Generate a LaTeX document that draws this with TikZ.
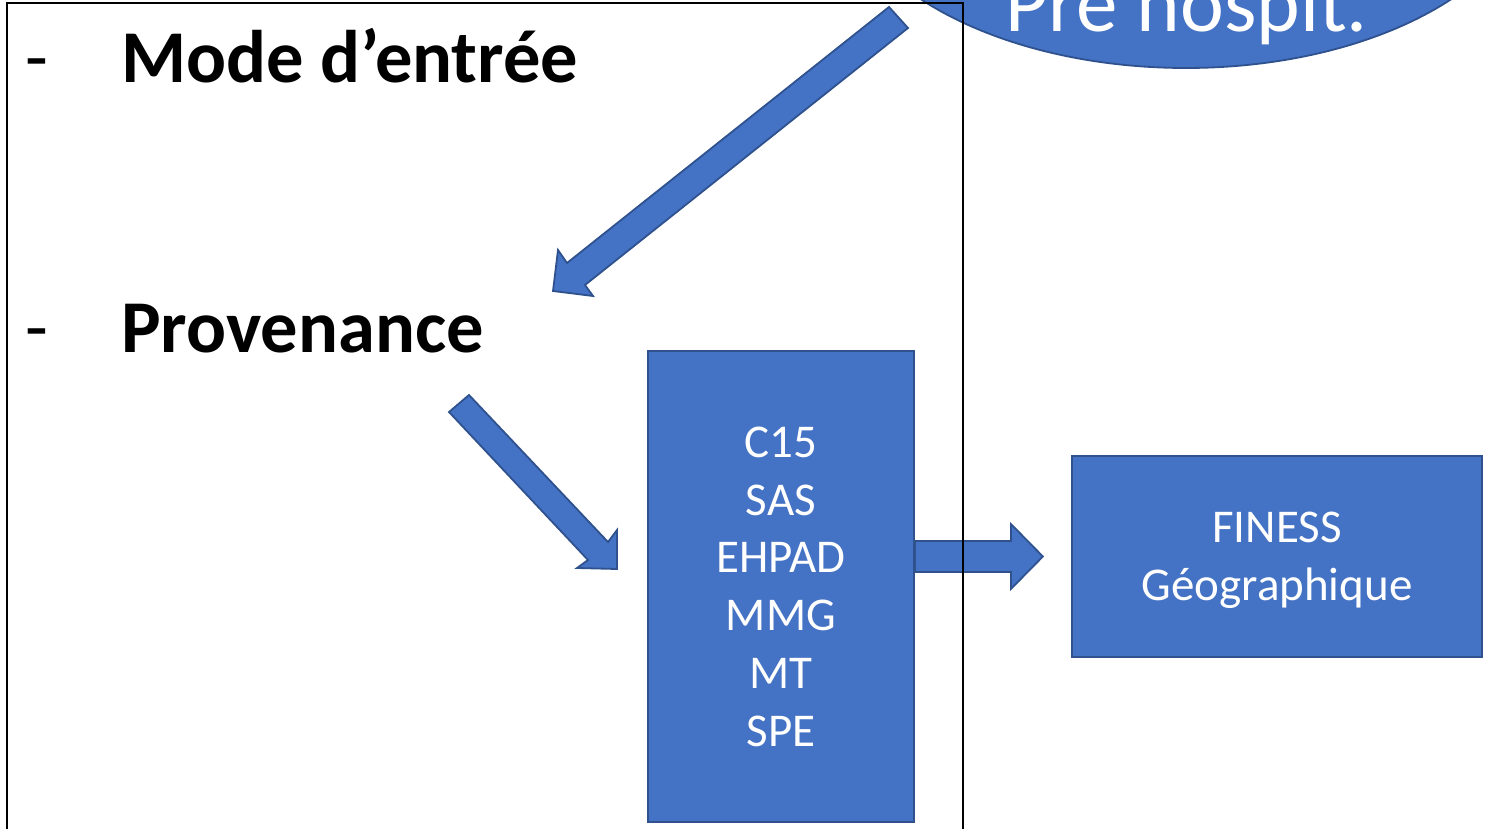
\documentclass[tikz,border=0pt]{standalone}
\usepackage{fontspec}
\setmainfont{Carlito}
\usetikzlibrary{shapes.geometric,calc}
\definecolor{pblue}{HTML}{4472C4}
\definecolor{pedge}{HTML}{2F528F}
\tikzset{
  bluefill/.style={fill=pblue, draw=pedge, line width=1.8pt, line join=miter},
  bluebox/.style={bluefill, rectangle, inner sep=0pt, text=white, align=center,
    text depth=0pt, font=\fontsize{47}{57.7}\selectfont},
  bigbold/.style={anchor=base west, inner sep=0pt, font=\fontsize{74.5}{88}\selectfont\bfseries},
  dashtxt/.style={anchor=base west, inner sep=0pt, font=\fontsize{74.5}{88}\selectfont},
}
\begin{document}
\begin{tikzpicture}[x=1pt,y=-1pt]
\useasboundingbox (0,0) rectangle (1486,829);
\clip (0,0) rectangle (1486,829);
\fill[white] (0,0) rectangle (1486,829);

% ellipse "Pre hospit."
\node[ellipse, bluefill, minimum width=700pt, minimum height=396pt, inner sep=0pt] (pre) at (1186,-130) {};
\node[anchor=base, inner sep=0pt, text=white, font=\fontsize{83}{96}\selectfont] (pretxt) at (1187,32) {Pré hospit.};

% left texts
\node[dashtxt] (d1) at (25,83) {-};
\node[bigbold] (mode) at (121,83) {Mode d’entrée};
\node[dashtxt] (d2) at (25,352) {-};
\node[bigbold] (prov) at (121,352) {Provenance};

% block arrows
\draw[bluefill] (889,7) -- (908,28) -- (585,285) -- (593,296) -- (553,291) -- (558,250) -- (567,263) -- cycle;
\draw[bluefill] (449,412) -- (469,395) -- (608,542) -- (617,530) -- (617,569) -- (577,568) -- (588,560) -- cycle;

% boxes
\node[bluebox, minimum width=266pt, minimum height=471pt] (b1) at (781,586.5)
  {C15\\SAS\\EHPAD\\MMG\\MT\\SPE};
\node[bluebox, minimum width=410pt, minimum height=201pt] (b2) at (1277,556.5)
  {FINESS\\Géographique};

% horizontal block arrow from b1 towards b2
\coordinate (ytop) at (0,541);
\coordinate (ybot) at (0,572);
\coordinate (hs) at (b1.east |- ytop);
\coordinate (he) at (b1.east |- ybot);
\draw[bluefill] (hs) -- ++(96,0) -- ++(0,-17) -- ($(hs)+(128,15.5)$) -- ($(he)+(96,17)$) -- ++(0,-17) -- (he) -- cycle;

% black frame on top
\draw[black, line width=2pt] (6.5,900) -- (6.5,3) -- (962.5,3) -- (962.5,900);
\end{tikzpicture}
\end{document}
